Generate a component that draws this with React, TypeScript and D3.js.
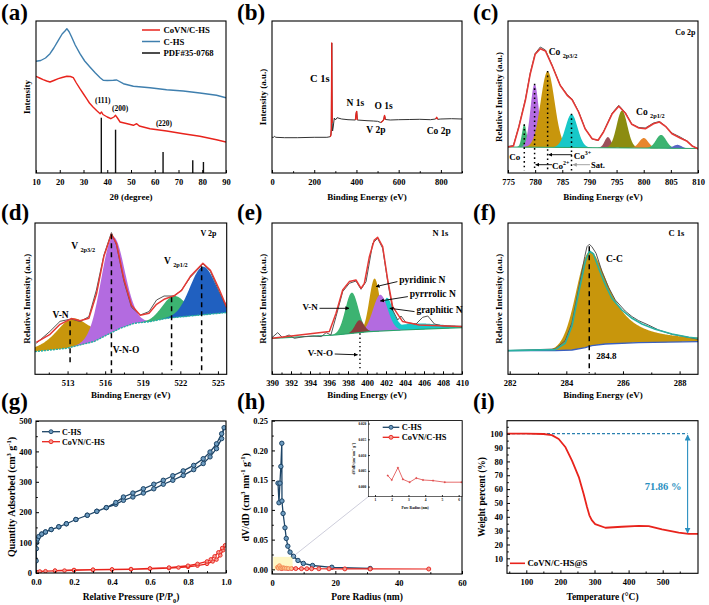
import { useEffect, useRef } from "react";
import * as d3 from "d3";

type P = [number, number];
type Peak = { c: number; h: number; wl: number; wr?: number; el?: number; er?: number; color: string };

const W = 709;
const H = 605;
const FONT = "'Liberation Serif', 'Times New Roman', serif";

// ---------- (a) XRD ----------
const xrdCHS: P[] = [[10,111.7],[12,112.5],[14,115],[15.9,119.3],[17.5,125],[19.4,132.7],[21,139],[22.2,142],[23,144.3],[24,141],[25,136],[26.5,128],[28.5,119.3],[30.5,112],[32.7,106],[35,100],[37,95.3],[38.3,92.7],[40,92.5],[42.6,92.7],[44,93],[46.8,89.3],[51,86.7],[58,85.3],[65,83.3],[72,82],[79,80],[86,77.7],[90,75.3]];
const xrdCoVN: P[] = [[10,96.7],[11.5,95],[13,93.3],[14.5,92],[15.9,91],[17.5,92.5],[19.4,94.3],[21,95.5],[23,96.7],[24.5,96.5],[25.7,95.3],[27,90],[28.5,84.3],[30,79],[31.3,74.3],[32.5,70],[34,66],[35.5,62.5],[37,59.3],[37.6,61],[38.2,58.5],[40,56],[41.5,54.3],[42.8,56],[43.5,57.7],[44.3,55],[45.4,51],[48,49.5],[51,47.7],[52.4,49.3],[53.5,47],[58,44.3],[65,42],[72,39.3],[79,36.7],[86,33.3],[90,31]];
const pdfSticks: P[] = [[37.5,55.3],[43.5,43.3],[63.5,21],[76,12.7],[80.5,11]];
const hklLabels = ["(111)", "(200)", "(220)"];

// ---------- (b) survey ----------
const survey: P[] = [[0,35.7],[8,35.7],[12,36.7],[18,35.7],[60,35.3],[120,35.3],[200,35.7],[260,35.7],[276,36.3],[279,38],[281,44],[283,130],[285,50],[287,42],[290,46],[295,55],[300,53],[308,55.3],[330,54],[360,53.3],[395,53],[399,60],[401,61.7],[404,53],[450,52.3],[480,52],[500,51.7],[515,50.5],[525,52],[530,54],[533,57.7],[537,53.5],[560,53],[600,53.3],[650,53.5],[700,53.7],[750,53.3],[775,54],[780,55.7],[785,53.7],[800,54],[850,54.3],[900,54]];
const surveyMarks: P[] = [[276,285],[385,410],[505,525],[525,540],[770,795]];

// ---------- (c) Co 2p ----------
const coRaw: P[] = [[775,26.5],[776,27.5],[777,46.5],[778.2,73.5],[779.1,100],[780,119.5],[780.95,126],[781.9,123],[783.1,108],[784.6,88],[785.9,78.5],[786.8,74],[788,61.5],[789.2,44.5],[790.5,34],[791.6,32.5],[792.6,41.5],[794.2,60],[795.4,67.7],[796.6,60.5],[797.8,49],[799.1,45.5],[800.3,45],[801.8,50],[802.9,51.5],[804,47],[805.2,40],[806.7,36],[808,32],[809,27],[810,24]];
const coFit: P[] = [[775,26],[776,27],[777,46],[778.2,72.7],[779.1,99.3],[780,118.7],[780.95,124.3],[781.9,122],[783.1,107.7],[784.6,87.7],[785.9,77.7],[786.8,73.3],[788,61],[789.2,44.3],[790.5,34.3],[791.6,32.7],[792.6,41],[794.2,59.3],[795.4,66.7],[796.6,60],[797.8,48.7],[799.1,45],[800.3,44.3],[801.8,49.3],[802.9,51],[804,46.7],[805.2,39.3],[806.7,35],[808,31.7],[809,26.7],[810,24.3]];
const coBg: P[] = [[775,26],[810,24.5]];
const coPeaks: Peak[] = [
  { c: 778, h: 22.7, wl: 0.5, color: "#3cb371" },
  { c: 779.9, h: 63.3, wl: 0.9, color: "#b36be0" },
  { c: 782.3, h: 76, wl: 1.5, color: "#c8960c" },
  { c: 786.7, h: 33.3, wl: 1.3, color: "#18c8c8" },
  { c: 793.4, h: 10.7, wl: 0.7, color: "#9c4f5a" },
  { c: 796, h: 37.3, wl: 1.15, color: "#8c8c10" },
  { c: 800, h: 10, wl: 1.0, color: "#e8862c" },
  { c: 803.2, h: 13.3, wl: 1.1, color: "#3cb371" },
  { c: 806.2, h: 3.5, wl: 0.9, color: "#5a64c8" },
];
const coMarks = [778, 779.9, 782.3, 786.7];

// ---------- (d) V 2p ----------
const vRaw: P[] = [[510.5,31],[511.6,43],[512.4,53],[513.3,55.3],[514,52.7],[514.7,57.7],[515.3,84.3],[515.9,119.3],[516.5,141.7],[516.9,129.3],[517.5,92.7],[518.1,67],[518.8,59.3],[519.5,62.7],[520.1,74.3],[520.7,78.3],[521.5,78.3],[522.1,84.3],[522.8,97],[523.8,110.3],[524.4,102.7],[525.1,82.7],[525.7,66]];
const vFit: P[] = [[510.5,32],[511.6,40],[512.4,50],[513.3,55.7],[514,53.5],[514.7,56],[515.3,80],[515.9,118],[516.5,140],[516.9,131],[517.5,95],[518.1,69],[518.8,59],[519.5,61],[520.1,70],[520.7,75],[521.5,78.5],[522.1,84],[522.8,98],[523.8,111],[524.4,104],[525.1,85],[525.7,67]];
const vBg: P[] = [[510.4,22.7],[512.9,26],[515.1,32.7],[516.4,41],[517.2,46],[518.3,51],[519.6,52.7],[520.9,56],[523.6,59.3],[525.7,61.7]];
const vPeaks: Peak[] = [
  { c: 513.3, h: 28.5, wl: 1.5, wr: 1.7, el: 0.6, er: 0.6, color: "#c8960c" },
  { c: 516.6, h: 95, wl: 1.1, color: "#b36be0" },
  { c: 521.5, h: 21.5, wl: 1.1, color: "#3cb371" },
  { c: 523.8, h: 48, wl: 1.2, color: "#2060c0" },
];

// ---------- (e) N 1s ----------
const nRaw: P[] = [[390,36.7],[390.6,41.7],[391.1,36.7],[391.8,39.3],[392.35,36],[393.4,37.7],[394.3,38.3],[395.2,37.7],[395.7,41.7],[396.2,39.3],[396.74,57.7],[397.44,82.7],[398.14,91],[398.84,93.3],[399.37,85],[399.9,92.7],[400.6,131],[401.12,136],[401.65,126],[402.18,92.7],[402.7,64.3],[403.23,54.3],[403.58,58.3],[404.1,51.7],[405.16,50.3],[405.86,57],[406.4,58.3],[407.1,50.3],[408,48.3],[410,47.7]];
const nFit: P[] = [[390,36],[396.04,42.7],[396.74,61],[397.44,84.3],[398.14,92.7],[398.84,94.3],[399.37,86],[399.72,91],[400.25,117.7],[400.77,134.3],[401.12,137],[401.65,127.7],[402.18,94.3],[402.7,67.7],[403.75,52.7],[405.5,49.3],[410,47.7]];
const nBg: P[] = [[390,36],[396.7,39.3],[400.2,42.7],[403.8,44.3],[410,46.7]];
const nPeaks: Peak[] = [
  { c: 405, h: 6, wl: 3.5, el: 0.5, color: "#16c8c8" },
  { c: 402.1, h: 33, wl: 0.55, wr: 0.8, er: 0.6, color: "#16c8c8" },
  { c: 400.8, h: 52.8, wl: 0.65, color: "#c8960c" },
  { c: 401.4, h: 36.3, wl: 0.9, color: "#b36be0" },
  { c: 398.4, h: 40.7, wl: 0.8, color: "#3cb371" },
  { c: 399.2, h: 12.4, wl: 0.55, color: "#8a3c3c" },
];

// ---------- (f) C 1s ----------
const cRaw: P[] = [[281.94,23.7],[283.61,25.3],[283.96,33.7],[284.2,51.7],[284.43,85],[284.65,117.7],[284.73,127.7],[284.81,130],[284.9,127.7],[285.05,121],[285.26,102.7],[285.49,87],[285.73,74.3],[286.08,63.3],[286.32,57.7],[286.55,53.7],[286.9,49.3],[287.26,44.3],[287.73,40],[288.32,37],[288.65,35]];
const cFit: P[] = [[281.94,23.7],[283.61,24.7],[283.96,31],[284.2,48.3],[284.43,81],[284.67,112.7],[284.81,123.3],[284.96,120.3],[285.14,106],[285.38,89.3],[285.61,76],[285.96,64.3],[286.32,56],[286.67,50.3],[287.14,45],[287.73,40.3],[288.32,37],[288.65,36]];
const cBg: P[] = [[281.94,23.7],[283.61,23.7],[284.2,24.3],[284.67,26.7],[284.9,28.7],[285.38,30.3],[286.55,31.7],[288.65,32.7]];
const cPeaks: Peak[] = [{ c: 284.81, h: 94.5, wl: 0.55, wr: 0.85, el: 0, er: 0.9, color: "#c8960c" }];

// ---------- (g) N2 isotherm ----------
const isoCHS: P[] = [[0,0],[0.001,40],[0.002,80],[0.004,100],[0.008,112],[0.015,120],[0.03,128],[0.05,135],[0.08,143],[0.12,152],[0.16,162],[0.21,176],[0.27,190],[0.32,203],[0.37,215],[0.42,226],[0.46,239],[0.51,250],[0.565,263],[0.62,277],[0.67,292],[0.72,305],[0.775,321],[0.83,340],[0.88,360],[0.916,382],[0.95,409],[0.977,442],[0.99,478],[0.977,458],[0.95,425],[0.916,398],[0.88,376],[0.83,354],[0.775,336],[0.72,320],[0.67,305],[0.62,292],[0.565,277],[0.51,263],[0.46,250],[0.42,232],[0.37,215],[0.32,203],[0.27,190],[0.21,176],[0.16,162],[0.12,152],[0.08,143],[0.05,135],[0.03,128]];
const isoCoVN: P[] = [[0,0],[0.005,3],[0.02,5],[0.05,6],[0.1,7],[0.15,8],[0.2,9],[0.3,10],[0.4,11],[0.5,12],[0.6,14],[0.7,16],[0.75,18],[0.8,20],[0.85,24],[0.9,30],[0.93,38],[0.95,44],[0.97,58],[0.985,75],[0.995,91],[0.98,82],[0.96,68],[0.94,55],[0.92,45],[0.9,38],[0.85,30],[0.8,24],[0.7,18],[0.6,15],[0.5,13],[0.4,12],[0.3,11],[0.2,10],[0.1,8]];

// ---------- (h) pore size ----------
const poreCHS: P[] = [[1.9,0.145],[2.2,0.112],[2.5,0.145],[2.8,0.173],[3.1,0.212],[3.15,0.115],[3.5,0.094],[4.1,0.07],[4.5,0.052],[5,0.039],[5.7,0.029],[6.8,0.022],[8.2,0.015],[9.9,0.01],[12.8,0.0065],[18.9,0.0035],[31,0.0015]];
const poreCoVN: P[] = [[1.76,0.0035],[2,0.0021],[2.37,0.006],[2.67,0.0023],[3.07,0.0014],[3.47,0.0027],[3.87,0.0021],[4.47,0.0019],[5.17,0.0014],[6.17,0.0014],[7.5,0.0013],[9.3,0.0012],[11,0.0011],[12.5,0.0011],[14.8,0.001],[18,0.0009],[23,0.0008],[31,0.0007],[49.5,0.0006]];

// ---------- (i) TGA ----------
const tga: P[] = [[43.4,100],[100,100],[150,99.8],[175,99],[195,96.2],[215,90.2],[234,80.6],[254,68.7],[268,56.7],[278,47.1],[285,41.1],[292,37.6],[302,34.7],[332,32.1],[380,32.8],[430,33.5],[459,33.3],[498,30.9],[547,28.5],[576,27.6],[603.5,27.6]];
const sulfurLoss = "71.86 %";

// ---------- helpers ----------
let clipN = 0;

function panel(svg: any, l: number, r: number, t: number, b: number, xd: number[], yd: number[]) {
  const x = d3.scaleLinear().domain(xd).range([l, r]);
  const y = d3.scaleLinear().domain(yd).range([b, t]);
  const id = `clip${clipN++}`;
  svg.select("defs").append("clipPath").attr("id", id)
    .append("rect").attr("x", l).attr("y", t).attr("width", r - l).attr("height", b - t);
  const g = svg.append("g");
  const plot = g.append("g").attr("clip-path", `url(#${id})`);
  return { g, plot, x, y, l, r, t, b };
}

function frame(p: any, sw = 1.1) {
  p.g.append("rect").attr("x", p.l).attr("y", p.t).attr("width", p.r - p.l).attr("height", p.b - p.t)
    .attr("fill", "none").attr("stroke", "#000").attr("stroke-width", sw);
}

function styleAxis(ga: any, size: number) {
  ga.select(".domain").remove();
  ga.attr("font-family", FONT).attr("font-size", size).attr("font-weight", "bold");
  ga.selectAll("line").attr("stroke", "#000");
  ga.selectAll("text").attr("fill", "#000");
}

function axisX(p: any, major: number[], minor: number[], fmt: any = d3.format(""), size = 8.5, tl = 3, pad = 5.5) {
  const ga = p.g.append("g").attr("transform", `translate(0,${p.b})`)
    .call(d3.axisBottom(p.x).tickValues(major).tickSize(-tl).tickPadding(pad).tickFormat(fmt));
  styleAxis(ga, size);
  if (minor.length) {
    const gm = p.g.append("g").attr("transform", `translate(0,${p.b})`)
      .call(d3.axisBottom(p.x).tickValues(minor).tickSize(-tl * 0.6).tickFormat(() => ""));
    styleAxis(gm, size);
  }
}

function axisY(p: any, major: number[], minor: number[], fmt: any = d3.format(""), size = 8.5, tl = 3, pad = 4) {
  const ga = p.g.append("g").attr("transform", `translate(${p.l},0)`)
    .call(d3.axisLeft(p.y).tickValues(major).tickSize(-tl).tickPadding(pad).tickFormat(fmt));
  styleAxis(ga, size);
  if (minor.length) {
    const gm = p.g.append("g").attr("transform", `translate(${p.l},0)`)
      .call(d3.axisLeft(p.y).tickValues(minor).tickSize(-tl * 0.6).tickFormat(() => ""));
    styleAxis(gm, size);
  }
}

// parts: [text, kind] kind 0 normal, 1 superscript, -1 subscript
function rich(g: any, x: number, y: number, parts: [string, number][], size: number, opt: any = {}) {
  const t = g.append("text").attr("font-family", FONT).attr("font-weight", "bold")
    .attr("font-size", size).attr("fill", opt.fill || "#000").attr("text-anchor", opt.anchor || "start");
  if (opt.rotate) t.attr("transform", `translate(${x},${y}) rotate(-90)`);
  else t.attr("x", x).attr("y", y);
  let cur = 0;
  parts.forEach(([s, k]) => {
    const target = k === 1 ? -size * 0.38 : k === -1 ? size * 0.3 : 0;
    t.append("tspan").attr("dy", target - cur).attr("font-size", k ? size * 0.66 : size).text(s);
    cur = target;
  });
  return t;
}

function txt(g: any, x: number, y: number, s: string, size: number, opt: any = {}) {
  return rich(g, x, y, [[s, 0]], size, opt);
}

function line(p: any, data: P[], color: string, width: number, extra: any = {}) {
  const gen = d3.line<P>().x((d) => p.x(d[0])).y((d) => p.y(d[1]));
  const path = p.plot.append("path").datum(data).attr("d", gen).attr("fill", "none")
    .attr("stroke", color).attr("stroke-width", width).attr("stroke-linejoin", "round");
  if (extra.dash) path.attr("stroke-dasharray", extra.dash);
  return path;
}

function pv(pk: Peak, e: number) {
  const dx = e - pk.c;
  const w = dx < 0 ? pk.wl : pk.wr ?? pk.wl;
  const eta = dx < 0 ? pk.el ?? 0 : pk.er ?? pk.el ?? 0;
  const u = (dx / w) ** 2;
  return pk.h * (eta / (1 + u) + (1 - eta) * Math.exp(-Math.LN2 * u));
}

function peakFills(p: any, comps: Peak[], bg: P[]) {
  const bgS = d3.scaleLinear().domain(bg.map((d) => d[0])).range(bg.map((d) => d[1])).clamp(true);
  const [x0, x1] = p.x.domain();
  const grid = d3.range(x0, x1 + 1e-9, (x1 - x0) / 500);
  comps.forEach((pk) => {
    const area = d3.area<number>().x((e) => p.x(e)).y0((e) => p.y(bgS(e))).y1((e) => p.y(bgS(e) + pv(pk, e)));
    p.plot.append("path").datum(grid.filter((e) => pv(pk, e) > 0.08)).attr("d", area).attr("fill", pk.color);
  });
}

function vline(p: any, xv: number, y0: number, y1: number, dash: string, width = 1.4, color = "#000") {
  p.plot.append("line").attr("x1", p.x(xv)).attr("x2", p.x(xv)).attr("y1", p.y(y0)).attr("y2", p.y(y1))
    .attr("stroke", color).attr("stroke-width", width).attr("stroke-dasharray", dash);
}

function arrow(p: any, a: P, b: P, marker: string, color = "#000", width = 0.9) {
  p.plot.append("line").attr("x1", p.x(a[0])).attr("y1", p.y(a[1])).attr("x2", p.x(b[0])).attr("y2", p.y(b[1]))
    .attr("stroke", color).attr("stroke-width", width).attr("marker-end", `url(#${marker})`);
}

function markers(p: any, data: P[], r: number, fill: string, stroke: string, sw = 0.8) {
  p.plot.append("g").selectAll("circle").data(data).join("circle")
    .attr("cx", (d: P) => p.x(d[0])).attr("cy", (d: P) => p.y(d[1])).attr("r", r)
    .attr("fill", fill).attr("stroke", stroke).attr("stroke-width", sw);
}

function titles(svg: any, p: any, xt: [string, number][], yt: [string, number][], xBase: number, yX: number, xs = 9, ys = 9) {
  rich(svg, (p.l + p.r) / 2, xBase, xt, xs, { anchor: "middle" });
  rich(svg, yX + ys * 0.35, (p.t + p.b) / 2, yt, ys, { anchor: "middle", rotate: true });
}

function tag(svg: any, x: number, y: number, s: string) {
  txt(svg, x, y, s, 23);
}

// ---------- panels ----------
function drawA(svg: any) {
  const p = panel(svg, 36, 226, 21, 173, [10, 90], [0, 152]);
  pdfSticks.forEach((d) => {
    p.plot.append("line").attr("x1", p.x(d[0])).attr("x2", p.x(d[0])).attr("y1", p.y(0)).attr("y2", p.y(d[1]))
      .attr("stroke", "#111").attr("stroke-width", 1.4);
  });
  line(p, xrdCHS, "#3f7fae", 1.4);
  line(p, xrdCoVN, "#e8231c", 1.4);
  const hklPos: P[] = [[38.1, 70], [45.4, 62], [63.9, 47]];
  hklLabels.forEach((s, i) => txt(p.g, p.x(hklPos[i][0]), p.y(hklPos[i][1]), s, 7.5, { anchor: "middle" }));
  const leg: [string, string][] = [["CoVN/C-HS", "#e8231c"], ["C-HS", "#3f7fae"], ["PDF#35-0768", "#111"]];
  leg.forEach(([s, c], i) => {
    const yy = 30 + i * 11.5;
    p.g.append("line").attr("x1", 142).attr("x2", 160).attr("y1", yy).attr("y2", yy).attr("stroke", c).attr("stroke-width", 1.5);
    txt(p.g, 163.5, yy + 3, s, 8.7);
  });
  frame(p);
  axisX(p, d3.range(10, 91, 10), []);
  titles(svg, p, [["2θ (degree)", 0]], [["Intensity", 0]], 200, 27);
  tag(svg, 1, 19.5, "(a)");
}

function drawB(svg: any) {
  const p = panel(svg, 272, 462, 21, 173, [0, 900], [0, 152]);
  line(p, survey, "#333", 1);
  surveyMarks.forEach(([a, b]) => line(p, survey.filter((d) => d[0] >= a && d[0] <= b), "#e8231c", 1.3));
  txt(p.g, p.x(180), p.y(91), "C 1s", 10.5);
  txt(p.g, p.x(353), p.y(67), "N 1s", 9.5);
  txt(p.g, p.x(485), p.y(64), "O 1s", 9.5);
  txt(p.g, p.x(447), p.y(40), "V 2p", 9.5);
  txt(p.g, p.x(733), p.y(39), "Co 2p", 9.5);
  frame(p);
  axisX(p, [0, 200, 400, 600, 800], [100, 300, 500, 700, 900]);
  titles(svg, p, [["Binding Energy (eV)", 0]], [["Intensity (a.u.)", 0]], 200, 263);
  tag(svg, 237, 19.5, "(b)");
}

function drawC(svg: any) {
  const p = panel(svg, 508, 698, 21, 173, [775, 810], [0, 152]);
  peakFills(p, coPeaks, coBg);
  line(p, coBg, "#2aa36a", 1);
  line(p, coRaw, "#555", 1);
  line(p, coFit, "#e53935", 1.6);
  const tops = [48.7, 89.3, 102, 59.3];
  coMarks.forEach((e, i) => vline(p, e, tops[i], 2.5, "1.6,3", 1.5));
  txt(p.g, p.x(805.8), p.y(138.3), "Co 2p", 8);
  rich(p.g, p.x(782.5), p.y(117.7), [["Co ", 0], ["2p3/2", -1]], 9.5);
  rich(p.g, p.x(798.6), p.y(57.7), [["Co ", 0], ["2p1/2", -1]], 9.5);
  txt(p.g, p.x(775.25), p.y(13.3), "Co", 9);
  arrow(p, [786.8, 18.3], [782.5, 18.3], "arrBlack");
  rich(p.g, p.x(787.1), p.y(14.3), [["Co", 0], ["3+", 1]], 9);
  arrow(p, [783.1, 8.3], [780.1, 8.3], "arrBlack");
  rich(p.g, p.x(783.1), p.y(4.3), [["Co", 0], ["2+", 1]], 9);
  arrow(p, [790.1, 8.3], [787, 8.3], "arrGray", "#999");
  txt(p.g, p.x(790.3), p.y(5), "Sat.", 8.5);
  frame(p);
  axisX(p, d3.range(775, 811, 5), []);
  titles(svg, p, [["Binding Energy (eV)", 0]], [["Relative Intensity (a.u.)", 0]], 200, 499);
  tag(svg, 473, 19.5, "(c)");
}

function drawD(svg: any) {
  const p = panel(svg, 35, 226.7, 223, 374.3, [510.4, 525.7], [0, 151.3]);
  peakFills(p, vPeaks, vBg);
  line(p, vBg, "#20b0a8", 1.4, { dash: "2,1" });
  line(p, vRaw, "#555", 1);
  line(p, vFit, "#e53935", 1.5);
  vline(p, 513.2, 53, 11, "5,4", 1.5);
  vline(p, 516.5, 140, 1, "5,4", 1.5);
  vline(p, 521.3, 77, 4, "5,4", 1.5);
  vline(p, 523.7, 108, 4, "5,4", 1.5);
  txt(p.g, p.x(523.6), p.y(138.7), "V 2p", 8);
  rich(p.g, p.x(513.3), p.y(125.3), [["V ", 0], ["2p3/2", -1]], 9.5);
  rich(p.g, p.x(520.7), p.y(110.3), [["V ", 0], ["2p1/2", -1]], 9.5);
  txt(p.g, p.x(511.8), p.y(56), "V-N", 9.5);
  txt(p.g, p.x(516.6), p.y(21.7), "V-N-O", 9.5);
  frame(p);
  axisX(p, [513, 516, 519, 522, 525], [511.5, 514.5, 517.5, 520.5, 523.5]);
  titles(svg, p, [["Binding Energy (eV)", 0]], [["Relative Intensity (a.u.)", 0]], 398, 26.7);
  tag(svg, 1, 220, "(d)");
}

function drawE(svg: any) {
  const p = panel(svg, 272, 462, 223, 374.3, [390, 410], [0, 151.3]);
  peakFills(p, nPeaks, nBg);
  line(p, nBg, "#2aa36a", 1.2);
  line(p, nRaw, "#555", 1);
  line(p, nFit, "#e53935", 1.5);
  vline(p, 399.26, 41, 4.3, "1.4,2.8", 1.4);
  txt(p.g, p.x(406.9), p.y(138.3), "N 1s", 8.5);
  txt(p.g, p.x(403.4), p.y(91), "pyridinic N", 9.5);
  arrow(p, [403.2, 92.7], [400.95, 87.7], "arrBlack");
  txt(p.g, p.x(404.5), p.y(77), "pyrrrolic N", 9.5);
  arrow(p, [404.3, 77.7], [401.4, 73.3], "arrBlack");
  txt(p.g, p.x(405.2), p.y(61), "graphitic N", 9.5);
  arrow(p, [405, 62.7], [402.4, 66], "arrBlack");
  txt(p.g, p.x(393.2), p.y(64.3), "V-N", 9);
  arrow(p, [395, 66], [398.1, 66], "arrBlack");
  txt(p.g, p.x(393.75), p.y(18.3), "V-N-O", 9);
  arrow(p, [396.6, 20.3], [399, 19.5], "arrBlack");
  frame(p);
  axisX(p, d3.range(390, 411, 2), d3.range(391, 410, 2));
  titles(svg, p, [["Binding Energy (eV)", 0]], [["Relative Intensity (a.u.)", 0]], 398, 262.7);
  tag(svg, 237, 220, "(e)");
}

function drawF(svg: any) {
  const p = panel(svg, 508, 698, 223, 374.3, [281.94, 288.65], [0, 151.3]);
  peakFills(p, cPeaks, cBg);
  line(p, cBg, "#3a60c0", 1.4);
  line(p, cRaw, "#555", 1);
  line(p, cFit, "#2ab0a0", 1.6);
  vline(p, 284.81, 128, 1, "5,4", 1.5);
  txt(p.g, p.x(287.61), p.y(138.3), "C 1s", 8.5);
  txt(p.g, p.x(285.4), p.y(112.3), "C-C", 9.5);
  txt(p.g, p.x(285.06), p.y(15), "284.8", 9);
  frame(p);
  axisX(p, [282, 284, 286, 288], [283, 285, 287]);
  titles(svg, p, [["Binding Energy (eV)", 0]], [["Relative Intensity (a.u.)", 0]], 398, 498.7);
  tag(svg, 473, 220, "(f)");
}

function drawG(svg: any) {
  const p = panel(svg, 36, 226, 421, 573, [0, 1], [0, 500]);
  line(p, isoCHS, "#1d4466", 1.3);
  markers(p, isoCHS, 2.2, "#6e9cc0", "#1d4466", 1);
  line(p, isoCoVN, "#e8231c", 1.3);
  markers(p, isoCoVN, 1.8, "#f59a90", "#e8231c", 0.9);
  const leg: [string, string, string][] = [["C-HS", "#1d4466", "#6e9cc0"], ["CoVN/C-HS", "#e8231c", "#f59a90"]];
  leg.forEach(([s, c, f], i) => {
    const yy = 431.7 + i * 10;
    p.g.append("line").attr("x1", 42).attr("x2", 60).attr("y1", yy).attr("y2", yy).attr("stroke", c).attr("stroke-width", 1.3);
    p.g.append("circle").attr("cx", 51).attr("cy", yy).attr("r", 2).attr("fill", f).attr("stroke", c).attr("stroke-width", 0.9);
    txt(p.g, 62, yy + 3, s, 8);
  });
  frame(p);
  axisX(p, [0, 0.2, 0.4, 0.6, 0.8, 1.0], [0.1, 0.3, 0.5, 0.7, 0.9], d3.format(".1f"));
  axisY(p, d3.range(0, 501, 100), d3.range(50, 500, 100));
  titles(svg, p, [["Relative Pressure (P/P", 0], ["0", -1], [")", 0]],
    [["Quantity Adsorbed (cm", 0], ["3", 1], [" g", 0], ["-1", 1], [")", 0]], 600, 11.7, 9.5, 10);
  tag(svg, 1, 409, "(g)");
}

function drawH(svg: any) {
  const p = panel(svg, 272, 462, 420.7, 574, [0, 60], [-0.0078, 0.25]);
  line(p, poreCHS, "#1d4466", 1.3);
  markers(p, poreCHS, 2.2, "#6e9cc0", "#1d4466", 1);
  line(p, poreCoVN, "#e8231c", 1.2);
  markers(p, poreCoVN, 2, "#f59a90", "#e8231c", 0.9);
  p.plot.append("rect").attr("x", p.x(0.4)).attr("y", p.y(0.021)).attr("width", p.x(6.5) - p.x(0.4))
    .attr("height", p.y(-0.0015) - p.y(0.021)).attr("fill", "#fff08a").attr("opacity", 0.5);
  // inset
  const q = panel(svg, 368.3, 462, 420.7, 496.7, [0.6, 6.2], [-0.0032, 0.0209]);
  p.g.append("line").attr("x1", p.x(6.5)).attr("y1", p.y(0.021)).attr("x2", q.l).attr("y2", q.b)
    .attr("stroke", "#b8b8cc").attr("stroke-width", 0.7);
  q.g.insert("rect", ":first-child").attr("x", q.l).attr("y", q.t).attr("width", q.r - q.l).attr("height", q.b - q.t).attr("fill", "#fff");
  const ins = poreCoVN.filter((d) => d[0] <= 6.3);
  line(q, ins, "#e04848", 0.8);
  markers(q, ins, 0.8, "#e04848", "#e04848", 0.3);
  frame(q, 0.6);
  axisX(q, [1, 2, 3, 4, 5, 6], [], d3.format(""), 3.5, 1.5, 2);
  axisY(q, [0, 0.005, 0.01, 0.015, 0.02], [], d3.format(".3f"), 3.5, 1.5, 2);
  txt(svg, (q.l + q.r) / 2, 508.5, "Pore Radius (nm)", 3.6, { anchor: "middle" });
  rich(svg, 354.5, (q.t + q.b) / 2, [["dV/dD (cm", 0], ["3", 1], [" nm", 0], ["-1", 1], [" g", 0], ["-1", 1], [")", 0]], 3.6, { anchor: "middle", rotate: true });
  const leg: [string, string, string][] = [["C-HS", "#1d4466", "#6e9cc0"], ["CoVN/C-HS", "#e8231c", "#f59a90"]];
  leg.forEach(([s, c, f], i) => {
    const yy = 427.3 + i * 10;
    q.g.append("line").attr("x1", 382.7).attr("x2", 399.3).attr("y1", yy).attr("y2", yy).attr("stroke", c).attr("stroke-width", 1.3);
    q.g.append("circle").attr("cx", 391).attr("cy", yy).attr("r", 2).attr("fill", f).attr("stroke", c).attr("stroke-width", 0.9);
    txt(q.g, 401.7, yy + 3, s, 8.4);
  });
  frame(p);
  axisX(p, [0, 20, 40, 60], [10, 30, 50]);
  axisY(p, [0, 0.05, 0.1, 0.15, 0.2, 0.25], [0.025, 0.075, 0.125, 0.175, 0.225], d3.format(".2f"));
  titles(svg, p, [["Pore Radius (nm)", 0]],
    [["dV/dD (cm", 0], ["3", 1], [" nm", 0], ["-1", 1], [" g", 0], ["-1", 1], [")", 0]], 600, 245.3, 9.5, 10);
  tag(svg, 237, 409, "(h)");
}

function drawI(svg: any) {
  const p = panel(svg, 507, 698, 420.7, 573.3, [43.4, 603.5], [-0.8, 109.4]);
  p.plot.append("line").attr("x1", p.x(43.4)).attr("x2", p.x(573)).attr("y1", p.y(100)).attr("y2", p.y(100))
    .attr("stroke", "#2a80b0").attr("stroke-width", 1.2).attr("stroke-dasharray", "3,2");
  line(p, tga, "#e8231c", 1.8);
  p.plot.append("line").attr("x1", p.x(573)).attr("x2", p.x(573)).attr("y1", p.y(99)).attr("y2", p.y(28.3))
    .attr("stroke", "#2a8fc0").attr("stroke-width", 1.1)
    .attr("marker-start", "url(#arrTeal)").attr("marker-end", "url(#arrTeal)");
  txt(p.g, 644.7, 489.5, sulfurLoss, 10.5, { fill: "#2a8fc0" });
  p.g.append("line").attr("x1", 510).attr("x2", 525).attr("y1", 563.3).attr("y2", 563.3).attr("stroke", "#e8231c").attr("stroke-width", 1.6);
  txt(p.g, 527.5, 566.3, "CoVN/C-HS@S", 8.8);
  frame(p);
  axisX(p, [100, 200, 300, 400, 500], [50, 150, 250, 350, 450, 550]);
  axisY(p, d3.range(10, 101, 10), d3.range(5, 106, 10));
  titles(svg, p, [["Temperature (°C)", 0]], [["Weight percent (%)", 0]], 600, 482, 9.5, 9.5);
  tag(svg, 473, 409, "(i)");
}

export default function App() {
  const ref = useRef<SVGSVGElement>(null);

  useEffect(() => {
    if (!ref.current) return;
    const svg: any = d3.select(ref.current);
    svg.selectAll("*").remove();
    clipN = 0;
    const defs = svg.append("defs");
    const mk = (id: string, color: string, size: number) => {
      defs.append("marker").attr("id", id).attr("viewBox", "0 0 10 10").attr("refX", 9).attr("refY", 5)
        .attr("markerUnits", "userSpaceOnUse").attr("markerWidth", size).attr("markerHeight", size)
        .attr("orient", "auto-start-reverse")
        .append("path").attr("d", "M0,0L10,5L0,10z").attr("fill", color);
    };
    mk("arrBlack", "#000", 4);
    mk("arrGray", "#999", 4);
    mk("arrTeal", "#2a8fc0", 6);
    svg.append("rect").attr("width", W).attr("height", H).attr("fill", "#fff");
    drawA(svg); drawB(svg); drawC(svg);
    drawD(svg); drawE(svg); drawF(svg);
    drawG(svg); drawH(svg); drawI(svg);
  }, []);

  return (
    <svg ref={ref} width={W} height={H} style={{ position: "absolute", left: 0, top: 0, background: "#fff" }} />
  );
}
